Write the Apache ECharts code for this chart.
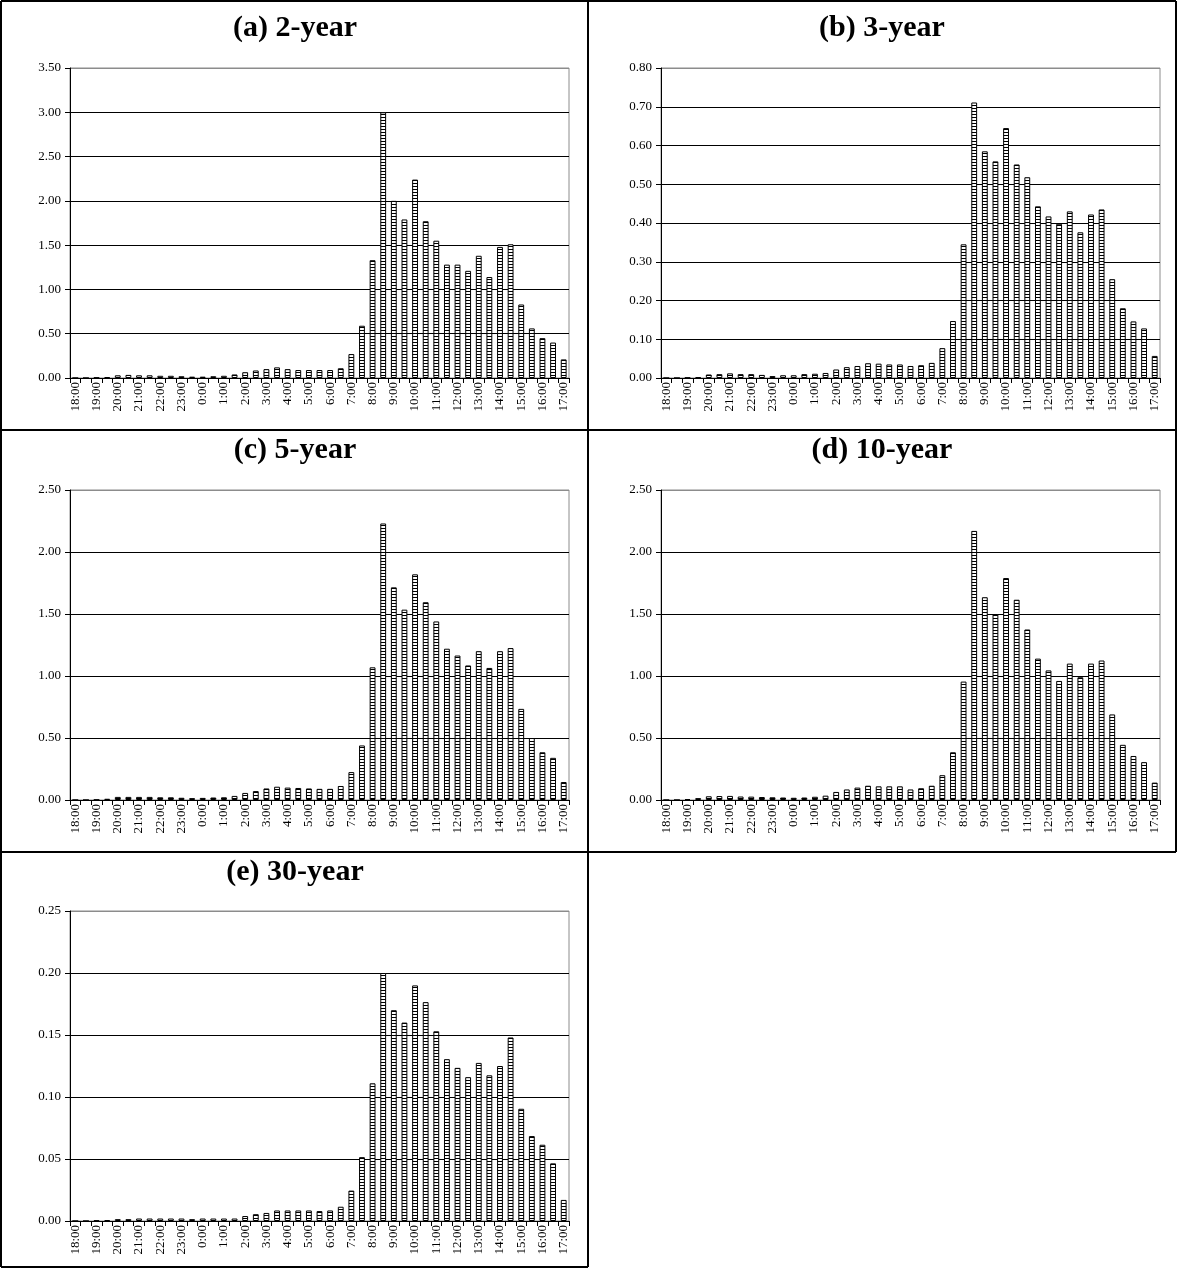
<!DOCTYPE html>
<html>
<head>
<meta charset="utf-8">
<script src="https://cdn.jsdelivr.net/npm/echarts@6/dist/echarts.min.js"></script>
<style>
html,body{margin:0;padding:0;background:#fff;}
#chart{width:1177px;height:1269px;}
</style>
</head>
<body>
<div id="chart"></div>
<script>
const categories = ['18:00','18:30','19:00','19:30','20:00','20:30','21:00','21:30','22:00','22:30','23:00','23:30',
  '0:00','0:30','1:00','1:30','2:00','2:30','3:00','3:30','4:00','4:30','5:00','5:30','6:00','6:30',
  '7:00','7:30','8:00','8:30','9:00','9:30','10:00','10:30','11:00','11:30','12:00','12:30',
  '13:00','13:30','14:00','14:30','15:00','15:30','16:00','16:30','17:00'];

const panelTitles = ['(a) 2-year','(b) 3-year','(c) 5-year','(d) 10-year','(e) 30-year'];

const twoYear = [0,0,0.005,0.01,0.03,0.035,0.03,0.03,0.025,0.025,0.02,0.015,0.015,0.02,0.025,0.04,0.065,0.085,0.10,0.12,0.10,0.09,0.09,0.09,0.09,0.11,0.27,0.59,1.33,3.00,2.00,1.79,2.24,1.77,1.55,1.28,1.28,1.21,1.38,1.14,1.48,1.51,0.83,0.56,0.45,0.40,0.21];
const threeYear = [0,0,0.001,0.002,0.009,0.01,0.012,0.01,0.01,0.008,0.005,0.007,0.007,0.01,0.011,0.013,0.022,0.028,0.031,0.038,0.037,0.035,0.035,0.031,0.033,0.039,0.077,0.147,0.345,0.711,0.585,0.559,0.645,0.551,0.518,0.443,0.417,0.398,0.43,0.376,0.422,0.435,0.255,0.18,0.146,0.128,0.057];
const fiveYear = [0,0,0.003,0.01,0.025,0.025,0.025,0.025,0.022,0.022,0.018,0.015,0.017,0.02,0.022,0.033,0.057,0.072,0.093,0.107,0.10,0.097,0.093,0.09,0.09,0.113,0.225,0.44,1.07,2.23,1.715,1.535,1.82,1.595,1.44,1.22,1.165,1.085,1.20,1.065,1.20,1.225,0.735,0.50,0.385,0.34,0.145];
const tenYear = [0,0,0.008,0.015,0.03,0.032,0.033,0.028,0.027,0.024,0.022,0.02,0.018,0.02,0.026,0.035,0.065,0.085,0.10,0.115,0.11,0.11,0.11,0.085,0.095,0.115,0.20,0.385,0.955,2.17,1.635,1.50,1.79,1.615,1.375,1.14,1.045,0.96,1.10,0.99,1.10,1.125,0.69,0.445,0.355,0.305,0.14];
const thirtyYear = [0,0,0.0005,0.0008,0.0015,0.0015,0.002,0.002,0.002,0.002,0.002,0.0015,0.002,0.002,0.002,0.002,0.004,0.0055,0.0065,0.0085,0.0085,0.0085,0.0085,0.008,0.0085,0.0115,0.0245,0.0515,0.111,0.20,0.17,0.16,0.19,0.1765,0.153,0.1305,0.1235,0.116,0.1275,0.1175,0.125,0.148,0.0905,0.0685,0.0615,0.0465,0.017];

const yMax = [3.5, 0.8, 2.5, 2.5, 0.25];
const yInterval = [0.5, 0.1, 0.5, 0.5, 0.05];

const seriesValues = [twoYear, threeYear, fiveYear, tenYear, thirtyYear];

// layout (pixels)
const layout = [
  {left: 70, top: 68, tx: 295, ty: 28},
  {left: 661, top: 68, tx: 882, ty: 28},
  {left: 70, top: 490, tx: 295, ty: 450},
  {left: 661, top: 490, tx: 882, ty: 450},
  {left: 70, top: 911, tx: 295, ty: 872}
];
const plotW = 499, plotH = 310;
const FONT = '"Liberation Serif", "Times New Roman", serif';

// horizontal-stripe pattern for bars
const pat = document.createElement('canvas');
pat.width = 4; pat.height = 3;
const pctx = pat.getContext('2d');
pctx.fillStyle = '#ffffff'; pctx.fillRect(0, 0, 4, 3);
pctx.fillStyle = '#000000'; pctx.fillRect(0, 0, 4, 1);

const grids = [], xAxes = [], yAxes = [], series = [], graphics = [];
layout.forEach((L, i) => {
  grids.push({left: L.left, top: L.top, width: plotW, height: plotH, show: true,
    borderColor: '#8c8c8c', borderWidth: 1, backgroundColor: 'transparent'});
  xAxes.push({
    type: 'category', gridIndex: i, data: categories, boundaryGap: true,
    axisLine: {lineStyle: {color: '#000', width: 1}},
    axisTick: {show: true, interval: 0, length: 5, lineStyle: {color: '#000'}},
    axisLabel: {interval: 1, rotate: 90, color: '#000', fontFamily: FONT, fontSize: 13, margin: 4}
  });
  const nLines = Math.round(yMax[i] / yInterval[i]) + 1;
  const lineColors = [];
  for (let k = 0; k < nLines; k++) lineColors.push(k === nLines - 1 ? '#8c8c8c' : '#000');
  yAxes.push({
    type: 'value', gridIndex: i, min: 0, max: yMax[i], interval: yInterval[i],
    axisLine: {show: true, lineStyle: {color: '#000', width: 1}},
    axisTick: {show: true, length: 5, lineStyle: {color: '#000'}},
    axisLabel: {color: '#000', fontFamily: FONT, fontSize: 13, margin: 9,
      formatter: v => v.toFixed(2)},
    splitLine: {show: true, lineStyle: {color: lineColors, width: 1}}
  });
  series.push({
    type: 'bar', xAxisIndex: i, yAxisIndex: i, data: seriesValues[i],
    barWidth: '55%',
    itemStyle: {color: {image: pat, repeat: 'repeat'}, borderColor: '#000', borderWidth: 1},
    animation: false
  });
  graphics.push({type: 'text', x: L.tx, y: L.ty, style: {text: panelTitles[i],
    font: 'bold 30px ' + FONT, fill: '#000', textAlign: 'center', textVerticalAlign: 'middle'}});
});

// table borders
const lw = 2;
const lines = [
  [1, 1, 1176, 1], [1, 430, 1176, 430], [1, 852, 1176, 852], [1, 1267, 588, 1267],
  [1, 1, 1, 1267], [588, 1, 588, 1267], [1176, 1, 1176, 852]
];
lines.forEach(l => graphics.push({type: 'line', shape: {x1: l[0], y1: l[1], x2: l[2], y2: l[3]},
  style: {stroke: '#000', lineWidth: lw}, z: 100}));

const chart = echarts.init(document.getElementById('chart'), null, {renderer: 'canvas'});
chart.setOption({
  animation: false,
  backgroundColor: '#fff',
  grid: grids, xAxis: xAxes, yAxis: yAxes, series: series, graphic: graphics
});
</script>
</body>
</html>
